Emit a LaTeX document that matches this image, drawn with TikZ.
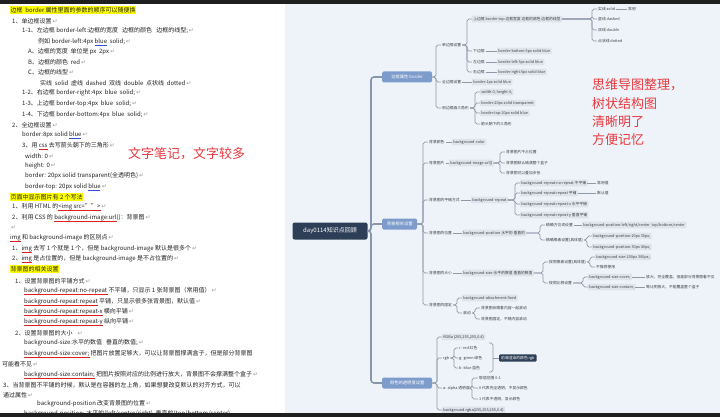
\documentclass[tikz,border=0pt]{standalone}
\usepackage{fontspec}
\setmainfont{Noto Sans CJK SC}
\newfontfamily\dejavu{DejaVu Sans}
\definecolor{panel}{HTML}{EEF3F9}
\definecolor{bar}{HTML}{1F1F1F}
\definecolor{txt}{HTML}{222222}
\definecolor{hly}{HTML}{FFFF00}
\definecolor{wavered}{HTML}{E02020}
\definecolor{ulblue}{HTML}{3050D0}
\definecolor{retc}{HTML}{9A9A9A}
\definecolor{annot}{HTML}{E8383D}
\definecolor{rootc}{HTML}{2D3E57}
\definecolor{brc}{HTML}{7D9BCB}
\definecolor{mmtxt}{HTML}{3A3F47}
\definecolor{leaf}{HTML}{E1E6ED}
\definecolor{leafd}{HTML}{D3D9E1}
\definecolor{conc}{HTML}{8E9AAA}
\definecolor{trunkc}{HTML}{8796AB}
\newsavebox\ulbox
\newcommand\rw[1]{\sbox\ulbox{#1}\rlap{\hbox to\wd\ulbox{\color{wavered}\xleaders\hbox{\rule[-2.1pt]{0.6pt}{0.3pt}\rule[-1.8pt]{0.6pt}{0.3pt}}\hfill}}\usebox\ulbox}
\newcommand\bu[1]{\sbox\ulbox{#1}\rlap{\hbox to\wd\ulbox{\color{ulblue}\leaders\hbox{\rule[-1.5pt]{1pt}{0.4pt}}\hfill}}\usebox\ulbox}
\newcommand\ret{{\dejavu\textcolor{retc}{\,↵}}}
\newcommand\kid[3]{\draw[conn] (#2.west) -- ++(-#3,0) |- (#1.east);}
\newcommand\lnk[2]{\draw[conn] (#1.east) -- (#2.west);}
\tikzset{
 lt/.style={anchor=west, inner sep=0pt, text=txt, font=\fontsize{6}{7}\selectfont},
 hl/.style={lt, fill=hly, inner xsep=0.5pt, inner ysep=0.8pt},
 note/.style={anchor=west, inner sep=0pt, text=annot, font=\fontsize{13}{15}\selectfont},
 root/.style={fill=rootc, text=white, rounded corners=2pt, minimum width=75pt, minimum height=17pt, inner sep=1pt, font=\fontsize{6}{7}\selectfont},
 brn/.style={anchor=west, fill=brc, text=white, rounded corners=1.5pt, minimum height=11pt, inner sep=1pt, font=\fontsize{4.3}{5}\selectfont},
 mt/.style={anchor=west, inner sep=1pt, text=mmtxt, font=\fontsize{3.8}{4.5}\selectfont},
 lf/.style={mt, fill=leaf, draw=leafd, line width=0.2pt, rounded corners=0.8pt, inner xsep=1.2pt, inner ysep=1pt},
 sumn/.style={mt, fill=rootc, text=white, rounded corners=1pt, inner xsep=2pt, inner ysep=1.5pt},
 conn/.style={draw=conc, line width=0.7pt, rounded corners=1.8pt},
 trunk/.style={draw=trunkc, line width=1.6pt, rounded corners=3pt},
}
\begin{document}
\begin{tikzpicture}[x=1pt,y=-1pt]
\useasboundingbox (0,0) rectangle (720,417);
\fill[white] (0,0) rectangle (720,417);
\fill[panel] (285,4) rectangle (720,413);

% ---------- left: text notes ----------
\node[hl] (l1) at (10,10) {边框\ \ border 属性里面的参数的顺序可以随便换};
\node[lt] (l2) at (12,21) {1、单边框设置\ret};
\node[lt] (l3) at (22,31) {1-1、左边框 border-left:边框的宽度\ \ \ 边框的颜色\ \ \ 边框的线型;\ret};
\node[lt] (l4) at (38,42) {例如 border-left:4px\ \bu{blue}\ \ solid;\ret};
\node[lt] (l5) at (28,52) {A、边框的宽度\ \ 单位是 px\ \ 2px\ret};
\node[lt] (l6) at (28,62) {B、边框的颜色\ \ red\ret};
\node[lt] (l7) at (28,72) {C、边框的线型\ret};
\node[lt] (l8) at (40,83) {实线\ \ solid\ \ 虚线\ \ dashed\ \ 双线\ \ double\ \ 点状线\ \ dotted\ret};
\node[lt] (l9) at (22,93) {1-2、右边框 border-right:4px\ \ blue\ \ solid;\ret};
\node[lt] (l10) at (22,104) {1-3、上边框 border-top:4px\ \ blue\ \ solid;\ret};
\node[lt] (l11) at (22,115) {1-4、下边框 border-bottom:4px\ \ blue\ \ solid;\ret};
\node[lt] (l12) at (12,125) {2、全边框设置\ret};
\node[lt] (l13) at (22,135) {border:8px solid \bu{blue}\ret};
\node[lt] (l14) at (22,146) {3、用 \rw{css} 去写箭头朝下的三角形\ret};
\node[lt] (l15) at (25,156) {width: 0\ret};
\node[lt] (l16) at (25,166) {height: 0\ret};
\node[lt] (l17) at (25,176) {border: 20px solid transparent(全透明色)\ret};
\node[lt] (l18) at (25,187) {border-top: 20px solid \bu{blue}\ret};
\node[hl] (l19) at (10,197) {页面中显示图片有 2 个写法};
\node[lt] (l20) at (12,207) {1、利用 HTML 的\rw{<img src="">}\ret};
\node[lt] (l21) at (12,218) {2、利用 CSS 的 \rw{background-image:url}()：背景图\ret};
\node[lt] (l22) at (10,228) {\ret};
\node[lt] (l23) at (10,238) {\rw{img} 和 background-image 的区别点\ret};
\node[lt] (l24) at (12,249) {1、\rw{img} 去写 1 个就是 1 个，但是 background-image 默认是很多个\ret};
\node[lt] (l25) at (12,259) {2、\rw{img} 是占位置的，但是 background-image 是不占位置的\ret};
\node[hl] (l26) at (10,269) {背景图的相关设置};
\node[lt] (l27) at (15,281) {1、设置背景图的平铺方式\ret};
\node[lt] (l28) at (24,291) {\rw{background-repeat:no-repeat} 不平铺，只显示 1 张背景图（常用值）\ret};
\node[lt] (l29) at (24,302) {\rw{background-repeat:repeat} 平铺，只显示很多张背景图，默认值\ret};
\node[lt] (l30) at (24,312) {\rw{background-repeat:repeat-x} 横向平铺\ret};
\node[lt] (l31) at (24,322) {\rw{background-repeat:repeat-y} 纵向平铺\ret};
\node[lt] (l32) at (15,333) {2、设置背景图的大小\ \ \ \ret};
\node[lt] (l33) at (24,343) {background-size:水平的数值\ \ \ 垂直的数值;\ret};
\node[lt] (l34) at (24,354) {\rw{background-size:cover;} 把图片放置足够大，可以让背景图撑满盒子，但是部分背景图};
\node[lt] (l35) at (2,364) {可能看不见\ret};
\node[lt] (l36) at (24,375) {\rw{background-size:contain;} 把图片按照对应的比例进行放大，背景图不会撑满整个盒子\ret};
\node[lt] (l37) at (3,385) {3、当背景图不平铺的时候，默认是在容器的左上角，如果想要改变默认的对齐方式，可以};
\node[lt] (l38) at (3,395) {通过属性\ret};
\node[lt] (l39) at (37,404) {background-position 改变背景图的位置\ret};
\node[lt] (l40) at (24,414) {background-position: 水平的(left/center/right)\ \ 垂直的(top/bottom/center)};

\node[note] (an1) at (128,154) {文字笔记，文字较多};

% ---------- right: mind map ----------
\node[root] (r) at (330,231) {day0114知识点回顾};
\node[brn, minimum width=50pt] (b1) at (382,77) {边框属性 border};
\node[brn, minimum width=35pt] (b2) at (382,224) {背景相关设置};
\node[brn, minimum width=50pt] (b3) at (382,383) {颜色的透明度设置};
\draw[trunk] (b1.west) -- ++(-11,0) |- (r.east);
\draw[trunk] (b2.west) -- ++(-11,0) |- (r.east);
\draw[trunk] (b3.west) -- ++(-11,0) |- (r.east);

% branch 1
\node[mt] (n11) at (441,45) {单边框设置};
\node[mt] (n12) at (441,82) {全边框设置};
\node[mt] (n13) at (441,108) {用边框画三角形};
\kid{b1}{n11}{5}\kid{b1}{n12}{5}\kid{b1}{n13}{5}

\node[lf] (n111) at (472,19) {上边框 border-top 边框宽度 边框的颜色 边框的线型};
\node[mt] (n112) at (472,51) {下边框};
\node[mt] (n113) at (472,62) {左边框};
\node[mt] (n114) at (472,72) {右边框};
\kid{n11}{n111}{5}\kid{n11}{n112}{5}\kid{n11}{n113}{5}\kid{n11}{n114}{5}

\node[mt] (n1111) at (597,9) {实线 solid};
\node[mt] (n1111b) at (627,9) {常用};
\node[mt] (n1112) at (597,19) {虚线 dashed};
\node[mt] (n1113) at (597,30) {双线 double};
\node[mt] (n1114) at (597,41) {点状线 dotted};
\kid{n111}{n1111}{5}\kid{n111}{n1112}{5}\kid{n111}{n1113}{5}\kid{n111}{n1114}{5}
\lnk{n1111}{n1111b}

\node[lf] (n112b) at (497,51) {border-bottom:5px solid blue};
\node[lf] (n113b) at (497,62) {border-left:5px solid blue};
\node[lf] (n114b) at (497,72) {border-right:5px solid blue};
\lnk{n112}{n112b}\lnk{n113}{n113b}\lnk{n114}{n114b}

\node[lf] (n12b) at (472,82) {border:1px solid blue};
\lnk{n12}{n12b}

\node[lf] (n131) at (480,92) {width:0; height:0;};
\node[lf] (n132) at (480,103) {border:20px solid transparent};
\node[lf] (n133) at (480,113) {border-top:20px solid blue};
\node[mt] (n134) at (480,124) {箭头朝下的三角形};
\kid{n13}{n131}{5}\kid{n13}{n132}{5}\kid{n13}{n133}{5}\kid{n13}{n134}{5}

% branch 2
\node[mt] (c1) at (428,142) {背景颜色};
\node[mt] (c2) at (428,163) {背景图片};
\node[mt] (c3) at (428,200) {背景图的平铺方式};
\node[mt] (c4) at (428,233) {背景图的位置};
\node[mt] (c5) at (428,273) {背景图的大小};
\node[mt] (c6) at (428,305) {背景图的固定};
\kid{b2}{c1}{5}\kid{b2}{c2}{5}\kid{b2}{c3}{5}\kid{b2}{c4}{5}\kid{b2}{c5}{5}\kid{b2}{c6}{5}

\node[lf] (c1b) at (452,142) {background-color};
\lnk{c1}{c1b}

\node[lf] (c2b) at (449,163) {background-image:url()};
\lnk{c2}{c2b}
\node[mt] (c21) at (505,152) {背景图片不占位置};
\node[mt] (c22) at (505,163) {背景图默认铺满整个盒子};
\node[mt] (c23) at (505,173) {背景图可以叠加多张};
\kid{c2b}{c21}{5}\kid{c2b}{c22}{5}\kid{c2b}{c23}{5}

\node[lf] (c3b) at (471,200) {background-repeat};
\lnk{c3}{c3b}
\node[lf] (c31) at (520,183) {background-repeat:no-repeat 不平铺};
\node[lf] (c32) at (520,193) {background-repeat:repeat 平铺};
\node[lf] (c33) at (520,204) {background-repeat:repeat-x 水平平铺};
\node[lf] (c34) at (520,215) {background-repeat:repeat-y 垂直平铺};
\kid{c3b}{c31}{5}\kid{c3b}{c32}{5}\kid{c3b}{c33}{5}\kid{c3b}{c34}{5}
\node[mt] (c31b) at (596,183) {常用值};
\node[mt] (c32b) at (596,193) {默认值};
\lnk{c31}{c31b}\lnk{c32}{c32b}

\node[lf] (c4b) at (462,233) {background-position 水平的 垂直的};
\lnk{c4}{c4b}
\node[mt] (c41) at (545,225) {精确方位词设置};
\node[mt] (c42) at (545,240) {精确像素设置(具体值)};
\kid{c4b}{c41}{5}\kid{c4b}{c42}{5}
\node[lf] (c41b) at (582,225) {background-position:left/right/center\ \ top/bottom/center};
\lnk{c41}{c41b}
\node[lf] (c421) at (592,236) {background-position:20px 30px;};
\node[lf] (c422) at (592,247) {background-position:30px 40px;};
\kid{c42}{c421}{5}\kid{c42}{c422}{5}

\node[lf] (c5b) at (462,273) {background-size:水平的数值 垂直的数值};
\lnk{c5}{c5b}
\node[mt] (c51) at (548,262) {按照像素设置(具体值)};
\node[mt] (c52) at (548,283) {按照比例设置};
\kid{c5b}{c51}{5}\kid{c5b}{c52}{5}
\node[lf] (c511) at (595,257) {background-size:200px 300px;};
\node[mt] (c512) at (595,267) {不推荐使用};
\kid{c51}{c511}{5}\kid{c51}{c512}{5}
\node[lf] (c521) at (588,277) {background-size:cover;};
\node[lf] (c522) at (588,287) {background-size:contain;};
\kid{c52}{c521}{5}\kid{c52}{c522}{5}
\node[mt] (c521b) at (645,277) {放大，完全覆盖，但是部分背景图看不见};
\node[mt] (c522b) at (645,287) {等比例放大，不能覆盖整个盒子};
\lnk{c521}{c521b}\lnk{c522}{c522b}

\node[lf] (c61) at (462,298) {background-attachment:fixed};
\node[mt] (c62) at (462,313) {滚动};
\kid{c6}{c61}{5}\kid{c6}{c62}{5}
\node[mt] (c621) at (480,308) {背景图会跟着内容一起滚动};
\node[mt] (c622) at (480,319) {背景图固定，不随内容滚动};
\kid{c62}{c621}{5}\kid{c62}{c622}{5}

% branch 3
\node[lf] (d1) at (442,337) {RGBa (255,255,255,0.4)};
\node[mt] (d2) at (442,358) {rgb};
\node[mt] (d3) at (442,388) {a: alpha 透明度};
\node[lf] (d4) at (442,410) {background:rgba(255,255,255,0.4)};
\kid{b3}{d1}{5}\kid{b3}{d2}{5}\kid{b3}{d3}{5}\kid{b3}{d4}{5}
\node[mt] (d21) at (458,348) {r: red 红色};
\node[mt] (d22) at (458,358) {g: green 绿色};
\node[mt] (d23) at (458,368) {b: blue 蓝色};
\kid{d2}{d21}{4}\kid{d2}{d22}{4}\kid{d2}{d23}{4}
\coordinate (s1) at (489,343);
\coordinate (s2) at (489,372);
\node[sumn] (sum) at (499,358) {前端渲染的颜色 rgb};
\draw[conn] (s1) -- ++(4,0) -- ++(0,29) -- (s2);
\draw[conn] (sum.west) -- ++(-6,0);
\node[mt] (d31) at (478,378) {取值范围 0-1};
\node[mt] (d32) at (478,388) {0 代表完全透明，不显示颜色};
\node[mt] (d33) at (478,399) {1 代表不透明，显示颜色};
\kid{d3}{d31}{6}\kid{d3}{d32}{6}\kid{d3}{d33}{6}

\node[note] (an2) at (592,85) {思维导图整理，};
\node[note] (an3) at (592,104) {树状结构图};
\node[note] (an4) at (592,122) {清晰明了};
\node[note] (an5) at (592,140) {方便记忆};

% window bars
\fill[bar] (0,0) rectangle (720,4);
\fill[bar] (0,413) rectangle (720,417);
\end{tikzpicture}
\end{document}
